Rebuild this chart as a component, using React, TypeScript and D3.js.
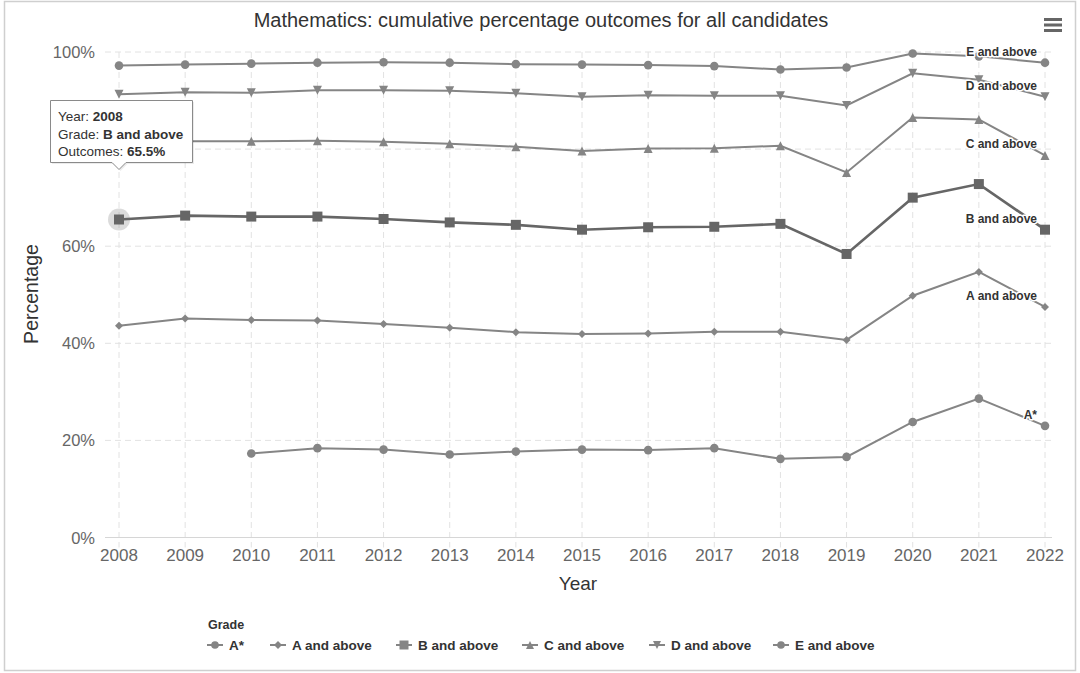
// @ts-nocheck
import React, { useEffect, useRef } from 'react';
import * as d3 from 'd3';

const years = [2008, 2009, 2010, 2011, 2012, 2013, 2014, 2015, 2016, 2017, 2018, 2019, 2020, 2021, 2022];

const gradeNames = ['A*', 'A and above', 'B and above', 'C and above', 'D and above', 'E and above'];
const gradeSymbols = ['circle', 'diamond', 'square', 'triangle', 'triangle-down', 'circle'];

const aStar = [null, null, 17.3, 18.4, 18.1, 17.1, 17.7, 18.1, 18.0, 18.4, 16.2, 16.6, 23.8, 28.6, 23.0];
const aAbove = [43.6, 45.1, 44.8, 44.7, 44.0, 43.2, 42.3, 41.9, 42.0, 42.4, 42.4, 40.7, 49.8, 54.7, 47.5];
const bAbove = [65.5, 66.3, 66.1, 66.1, 65.6, 64.9, 64.4, 63.4, 63.9, 64.0, 64.6, 58.4, 70.0, 72.8, 63.4];
const cAbove = [81.6, 81.6, 81.6, 81.7, 81.5, 81.1, 80.5, 79.6, 80.1, 80.2, 80.7, 75.2, 86.5, 86.1, 78.7];
const dAbove = [91.3, 91.7, 91.6, 92.1, 92.1, 92.0, 91.5, 90.8, 91.1, 91.0, 91.0, 89.0, 95.6, 94.3, 90.8];
const eAbove = [97.2, 97.4, 97.6, 97.8, 97.9, 97.8, 97.5, 97.4, 97.3, 97.1, 96.4, 96.8, 99.7, 99.1, 97.8];

const seriesValues = [aStar, aAbove, bAbove, cAbove, dAbove, eAbove];
const yTicks = [0, 20, 40, 60, 80, 100];
// the 80% label sits under the tooltip in the original, so it is not drawn
const yTickLabels = [0, 20, 40, 60, 100];

const W = 1080;
const H = 673;
const FONT = 'Liberation Sans, Arial, sans-serif';

const symbolPath = (kind, size) => {
  const s = size / 2;
  if (kind === 'circle') return d3.symbol(d3.symbolCircle, size * size * 0.72)();
  if (kind === 'square') return `M${-s},${-s}H${s}V${s}H${-s}Z`;
  if (kind === 'diamond') return `M0,${-s}L${s},0L0,${s}L${-s},0Z`;
  if (kind === 'triangle') return `M0,${-s}L${s},${s}L${-s},${s}Z`;
  return `M${-s},${-s}L${s},${-s}L0,${s}Z`;
};

const App = () => {
  const svgRef = useRef(null);

  useEffect(() => {
    const svg = d3.select(svgRef.current);
    svg.selectAll('*').remove();

    const x = d3.scaleLinear().domain([2008, 2022]).range([119, 1045]);
    const y = d3.scaleLinear().domain([0, 100]).range([537.5, 52]);

    svg.append('rect')
      .attr('x', 4.5).attr('y', 1.5).attr('width', 1071).attr('height', 669)
      .attr('fill', '#fff').attr('stroke', '#cfcfcf').attr('stroke-width', 1.5);

    // grid
    const grid = svg.append('g').attr('stroke', '#e2e2e2').attr('stroke-dasharray', '6,4');
    grid.selectAll('.vg').data(years).enter().append('line')
      .attr('x1', d => x(d)).attr('x2', d => x(d))
      .attr('y1', y(100)).attr('y2', y(0) + 10);
    grid.selectAll('.hg').data(yTicks.filter(d => d > 0)).enter().append('line')
      .attr('x1', 105).attr('x2', 1052)
      .attr('y1', d => y(d)).attr('y2', d => y(d));
    svg.append('line')
      .attr('x1', 105).attr('x2', 1052).attr('y1', y(0)).attr('y2', y(0))
      .attr('stroke', '#d6d6d6').attr('stroke-width', 1);

    // axis labels
    svg.append('g').selectAll('text').data(yTickLabels).enter().append('text')
      .attr('x', 95).attr('y', d => y(d) + 6)
      .attr('text-anchor', 'end')
      .attr('font-family', FONT).attr('font-size', 16.5).attr('fill', '#666')
      .text(d => `${d}%`);
    svg.append('g').selectAll('text').data(years).enter().append('text')
      .attr('x', d => x(d)).attr('y', 561)
      .attr('text-anchor', 'middle')
      .attr('font-family', FONT).attr('font-size', 17).attr('fill', '#666')
      .text(d => d);

    svg.append('text')
      .attr('x', 578).attr('y', 590).attr('text-anchor', 'middle')
      .attr('font-family', FONT).attr('font-size', 19).attr('fill', '#333')
      .text('Year');
    svg.append('text')
      .attr('transform', 'translate(38,294) rotate(-90)').attr('text-anchor', 'middle')
      .attr('font-family', FONT).attr('font-size', 19.5).attr('fill', '#333')
      .text('Percentage');

    svg.append('text')
      .attr('x', 541).attr('y', 27).attr('text-anchor', 'middle')
      .attr('font-family', FONT).attr('font-size', 20).attr('fill', '#333')
      .text('Mathematics: cumulative percentage outcomes for all candidates');

    // menu icon
    svg.append('g').selectAll('rect').data([0, 1, 2]).enter().append('rect')
      .attr('x', 1044).attr('y', d => 18 + d * 5.5).attr('width', 18).attr('height', 3)
      .attr('fill', '#666');

    const line = d3.line()
      .defined(d => d.v != null)
      .x(d => x(d.year)).y(d => y(d.v));

    // highlight halo
    svg.append('circle')
      .attr('cx', x(2008)).attr('cy', y(bAbove[0])).attr('r', 11)
      .attr('fill', '#888').attr('fill-opacity', 0.3);

    seriesValues.forEach((vals, i) => {
      const pts = years.map((yr, j) => ({ year: yr, v: vals[j] }));
      const hovered = i === 2;
      const col = hovered ? '#666' : '#858585';
      svg.append('path')
        .attr('d', line(pts))
        .attr('fill', 'none')
        .attr('stroke', col)
        .attr('stroke-width', hovered ? 2.6 : 2);
      const size = gradeSymbols[i] === 'square' ? 10 : gradeSymbols[i] === 'diamond' ? 8 : 9;
      svg.append('g').selectAll('path').data(pts.filter(d => d.v != null)).enter().append('path')
        .attr('transform', d => `translate(${x(d.year)},${y(d.v)})`)
        .attr('d', symbolPath(gradeSymbols[i], size))
        .attr('fill', col);
      const last = pts[pts.length - 1];
      svg.append('text')
        .attr('x', x(last.year) - 8).attr('y', y(last.v) - 7)
        .attr('text-anchor', 'end')
        .attr('font-family', FONT).attr('font-size', 12).attr('font-weight', 'bold')
        .attr('fill', '#333')
        .attr('stroke', '#fff').attr('stroke-width', 3).attr('paint-order', 'stroke')
        .attr('stroke-linejoin', 'round')
        .text(gradeNames[i]);
    });

    // tooltip
    const tip = svg.append('g').attr('transform', 'translate(50,100)');
    tip.append('path')
      .attr('d', 'M0.5,0.5H142.5V62.5H76L69,69.5L62,62.5H0.5Z')
      .attr('transform', 'translate(1.5,1.5)')
      .attr('fill', '#000').attr('fill-opacity', 0.08);
    tip.append('path')
      .attr('d', 'M0.5,0.5H142.5V62.5H76L69,69.5L62,62.5H0.5Z')
      .attr('fill', '#fff')
      .attr('stroke', '#8a8a8a').attr('stroke-width', 1);
    const tipRows = [['Year: ', '2008'], ['Grade: ', 'B and above'], ['Outcomes: ', '65.5%']];
    tipRows.forEach((r, k) => {
      const t = tip.append('text')
        .attr('x', 8).attr('y', 21 + k * 17.5)
        .attr('font-family', FONT).attr('font-size', 13.5).attr('fill', '#333');
      t.append('tspan').text(r[0]);
      t.append('tspan').attr('font-weight', 'bold').text(r[1]);
    });

    // legend
    svg.append('text')
      .attr('x', 208).attr('y', 629)
      .attr('font-family', FONT).attr('font-size', 12.5).attr('font-weight', 'bold').attr('fill', '#333')
      .text('Grade');
    const legendX = [215, 278, 404, 530, 657, 781];
    gradeNames.forEach((name, i) => {
      const g = svg.append('g').attr('transform', `translate(${legendX[i]},645)`);
      g.append('line').attr('x1', -8).attr('x2', 8).attr('stroke', '#858585').attr('stroke-width', 2);
      g.append('path').attr('d', symbolPath(gradeSymbols[i], gradeSymbols[i] === 'square' ? 9 : 8)).attr('fill', '#858585');
      g.append('text')
        .attr('x', 14).attr('y', 4.5)
        .attr('font-family', FONT).attr('font-size', 13.5).attr('font-weight', 'bold').attr('fill', '#333')
        .text(name);
    });
  }, []);

  return (
    <div style={{ position: 'absolute', left: 0, top: 0, width: W, height: H }}>
      <svg ref={svgRef} width={W} height={H} viewBox={`0 0 ${W} ${H}`} style={{ display: 'block' }} />
    </div>
  );
};

export default App;
